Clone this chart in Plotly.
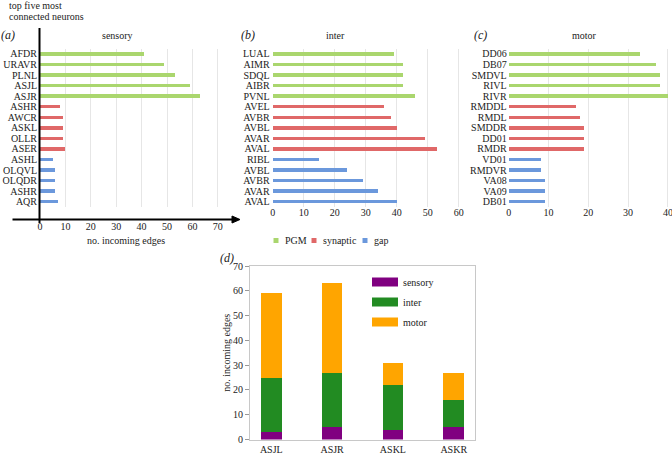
import plotly.graph_objects as go

# ---------------- data ----------------
series_names = ["PGM", "synaptic", "gap"]

sensory_pgm_labels = ["AFDR", "URAVR", "PLNL", "ASJL", "ASJR"]
sensory_pgm_values = [41, 49, 53, 59, 63]
sensory_syn_labels = ["ASHR", "AWCR", "ASKL", "OLLR", "ASER"]
sensory_syn_values = [8, 9, 9, 9, 10]
sensory_gap_labels = ["ASHL", "OLQVL", "OLQDR", "ASHR", "AQR"]
sensory_gap_values = [5, 6, 6, 6, 7]

inter_pgm_labels = ["LUAL", "AIMR", "SDQL", "AIBR", "PVNL"]
inter_pgm_values = [39, 42, 42, 42, 46]
inter_syn_labels = ["AVEL", "AVBR", "AVBL", "AVAR", "AVAL"]
inter_syn_values = [36, 38, 40, 49, 53]
inter_gap_labels = ["RIBL", "AVBL", "AVBR", "AVAR", "AVAL"]
inter_gap_values = [15, 24, 29, 34, 40]

motor_pgm_labels = ["DD06", "DB07", "SMDVL", "RIVL", "RIVR"]
motor_pgm_values = [33, 37, 38, 38, 40]
motor_syn_labels = ["RMDDL", "RMDL", "SMDDR", "DD01", "RMDR"]
motor_syn_values = [17, 18, 19, 19, 19]
motor_gap_labels = ["VD01", "RMDVR", "VA08", "VA09", "DB01"]
motor_gap_values = [8, 8, 9, 9, 9]

sensory_ticks = [0, 10, 20, 30, 40, 50, 60, 70]
inter_ticks = [0, 10, 20, 30, 40, 50, 60]
motor_ticks = [0, 10, 20, 30, 40]

d_neurons = ["ASJL", "ASJR", "ASKL", "ASKR"]
d_classes = ["sensory", "inter", "motor"]
d_sensory = [3, 5, 4, 5]
d_inter = [22, 22, 18, 11]
d_motor = [34, 36, 9, 11]
d_ticks = [0, 10, 20, 30, 40, 50, 60, 70]

# ---------------- styles ----------------
W, H = 672, 454
FONT = "Liberation Serif, Times New Roman, serif"
FS = 10
series_colors = {"PGM": "#aad66e", "synaptic": "#e06868", "gap": "#6b98dc"}
class_colors = {"sensory": "#800080", "inter": "#228b22", "motor": "#ffa500"}
GRID = "#e6e6e6"
TXT = "#222222"


def P(x):
    return x / W


def Q(y):
    return 1 - y / H


fig = go.Figure()

panels = [
    ("", [(sensory_pgm_labels, sensory_pgm_values), (sensory_syn_labels, sensory_syn_values),
          (sensory_gap_labels, sensory_gap_values)]),
    ("2", [(inter_pgm_labels, inter_pgm_values), (inter_syn_labels, inter_syn_values),
           (inter_gap_labels, inter_gap_values)]),
    ("3", [(motor_pgm_labels, motor_pgm_values), (motor_syn_labels, motor_syn_values),
           (motor_gap_labels, motor_gap_values)]),
]

panel_ticktexts = []
panel_tickvals = []
for suffix, groups in panels:
    all_labels = [lab for labs, _ in groups for lab in labs]
    n = len(all_labels)
    positions = list(range(n - 1, -1, -1))
    panel_ticktexts.append(all_labels)
    panel_tickvals.append(positions)
    start = 0
    for name, (labs, vals) in zip(series_names, groups):
        fig.add_trace(go.Bar(
            x=vals, y=positions[start:start + len(labs)], orientation="h",
            marker=dict(color=series_colors[name], line=dict(width=0)),
            width=0.33, name=name, showlegend=False,
            xaxis="x" + suffix, yaxis="y" + suffix,
        ))
        start += len(labs)

for cls, vals in zip(d_classes, [d_sensory, d_inter, d_motor]):
    fig.add_trace(go.Bar(
        x=d_neurons, y=vals, name=cls, showlegend=False,
        marker=dict(color=class_colors[cls], line=dict(width=0)),
        width=0.34, xaxis="x4", yaxis="y4",
    ))

tickfont = dict(family=FONT, size=FS, color=TXT)
ydom = [Q(207), Q(48.7)]

layout = dict(
    width=W, height=H, autosize=False,
    margin=dict(l=0, r=0, t=0, b=0, pad=0, autoexpand=False),
    paper_bgcolor="white", plot_bgcolor="white",
    barmode="stack", showlegend=False,
    font=dict(family=FONT, size=FS, color=TXT),
    xaxis=dict(domain=[P(40), P(40 + 72 * 2.54)], range=[0, 72], tickvals=sensory_ticks,
               anchor="free", position=Q(219), showgrid=True, gridcolor=GRID,
               zeroline=False, showline=False, tickfont=tickfont, automargin=False),
    yaxis=dict(domain=ydom, range=[-0.5, 14.5], anchor="x", tickvals=panel_tickvals[0],
               ticktext=panel_ticktexts[0], showgrid=False, zeroline=False, tickfont=tickfont,
               ticklabelstandoff=2, automargin=False),
    xaxis2=dict(domain=[P(272.7), P(272.7 + 61 * 3.1)], range=[0, 61], tickvals=inter_ticks,
                anchor="y2", showgrid=True, gridcolor=GRID, zeroline=False, showline=False,
                tickfont=tickfont, ticklabelstandoff=-2, automargin=False),
    yaxis2=dict(domain=ydom, range=[-0.5, 14.5], anchor="x2", tickvals=panel_tickvals[1],
                ticktext=panel_ticktexts[1], showgrid=False, zeroline=False, tickfont=tickfont,
                ticklabelstandoff=2, automargin=False),
    xaxis3=dict(domain=[P(508.7), P(508.7 + 40.5 * 3.98)], range=[0, 40.5], tickvals=motor_ticks,
                anchor="y3", showgrid=True, gridcolor=GRID, zeroline=False, showline=False,
                tickfont=tickfont, ticklabelstandoff=-2, automargin=False,
                ticklabeloverflow="allow"),
    yaxis3=dict(domain=ydom, range=[-0.5, 14.5], anchor="x3", tickvals=panel_tickvals[2],
                ticktext=panel_ticktexts[2], showgrid=False, zeroline=False, tickfont=tickfont,
                ticklabelstandoff=1, automargin=False),
    xaxis4=dict(domain=[P(250), P(475)], anchor="y4", type="category", range=[-0.35, 3.35],
                showline=True, linecolor="#c8c8c8", mirror=True, ticks="",
                showgrid=False, zeroline=False, tickfont=tickfont, ticklabelstandoff=0,
                automargin=False),
    yaxis4=dict(domain=[Q(439.5), Q(266)], anchor="x4", range=[0, 70], tickvals=d_ticks,
                showline=True, linecolor="#c8c8c8", mirror=True, ticks="outside", ticklen=4,
                tickcolor="#999", showgrid=False, zeroline=False, tickfont=tickfont,
                automargin=False,
                title=dict(text="no. incoming edges", font=dict(family=FONT, size=FS, color=TXT),
                           standoff=0)),
)
fig.update_layout(**layout)

ann = []


def txt(x, y, s, size=FS, xanchor="center", italic=False):
    ann.append(dict(x=P(x), y=Q(y), xref="paper", yref="paper", text=s, showarrow=False,
                    xanchor=xanchor, yanchor="middle",
                    font=dict(family=FONT, size=size, color=TXT,
                              style="italic" if italic else "normal")))


txt(7, 6, "top five most", xanchor="left")
txt(7, 17, "connected neurons", xanchor="left")
txt(8, 35, "(a)", size=12, xanchor="center", italic=True)
txt(117.5, 35, "sensory")
txt(248, 35, "(b)", size=12, italic=True)
txt(335, 35, "inter")
txt(480, 35, "(c)", size=12, italic=True)
txt(584, 35, "motor")
txt(126, 240, "no. incoming edges")
txt(227, 258, "(d)", size=12, italic=True)

shapes = []
# panel (a) drawn axes with arrow
shapes.append(dict(type="line", xref="paper", yref="paper", x0=P(39.5), x1=P(39.5),
                   y0=Q(28), y1=Q(223), line=dict(color="black", width=2)))
shapes.append(dict(type="line", xref="paper", yref="paper", x0=P(12.5), x1=P(234),
                   y0=Q(219.5), y1=Q(219.5), line=dict(color="black", width=2)))
shapes.append(dict(type="path", xref="paper", yref="paper",
                   path=f"M {P(232)} {Q(216)} L {P(240)} {Q(219.5)} L {P(232)} {Q(223)} Z",
                   fillcolor="black", line=dict(color="black", width=1)))

# legend for panels (a)-(c)
leg_x = [276, 314, 365]
for name, x in zip(series_names, leg_x):
    shapes.append(dict(type="rect", xref="paper", yref="paper", x0=P(x - 2.5), x1=P(x + 2.5),
                       y0=Q(243), y1=Q(238), fillcolor=series_colors[name], line=dict(width=0)))
    txt(x + 6.5, 240, name, xanchor="left")

# legend for panel (d)
leg_y = [282, 302, 322]
for cls, y in zip(d_classes, leg_y):
    shapes.append(dict(type="rect", xref="paper", yref="paper", x0=P(372), x1=P(398),
                       y0=Q(y + 4.5), y1=Q(y - 4.5), fillcolor=class_colors[cls], line=dict(width=0)))
    txt(401, y, cls, xanchor="left")

fig.update_layout(annotations=ann, shapes=shapes)
fig.write_html("out.html", config={"displayModeBar": False},
               post_script="document.body.style.margin='0';document.body.style.padding='0';")
